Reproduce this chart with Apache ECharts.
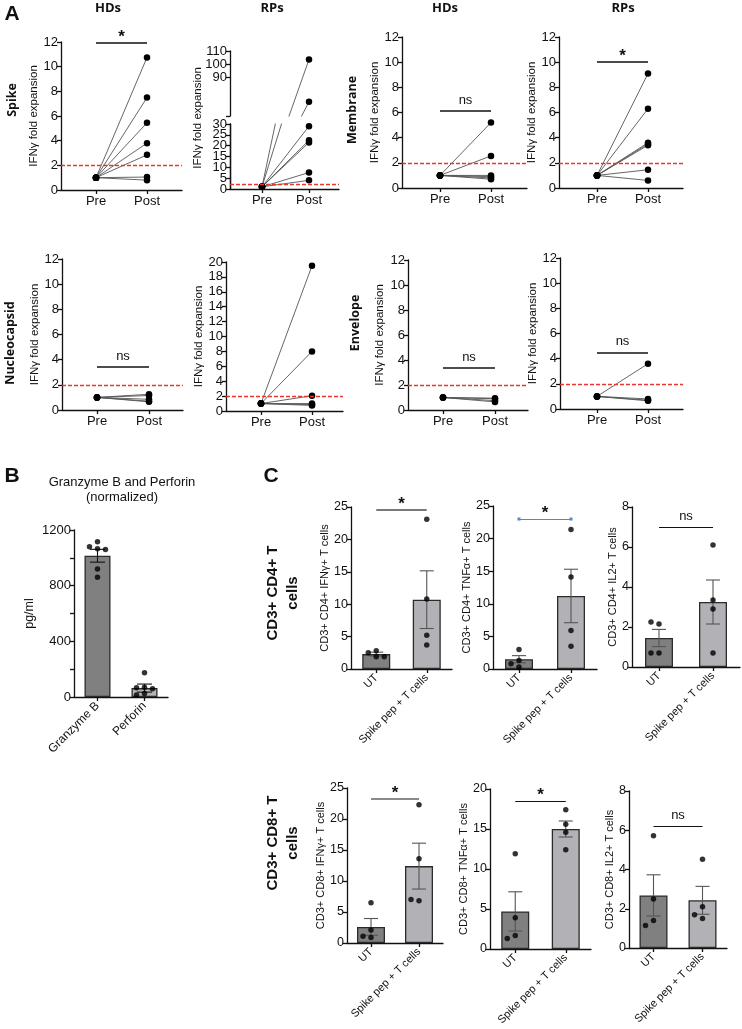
<!DOCTYPE html>
<html>
<head>
<meta charset="utf-8">
<title>IFNγ fold expansion, granzyme B / perforin and T cell cytokines</title>
<script src="https://cdn.jsdelivr.net/npm/echarts@6/dist/echarts.min.js"></script>
<style>
  html, body { margin: 0; padding: 0; background: #fff; }
  #main { width: 742px; height: 1029px; }
</style>
</head>
<body>
<div id="main"></div>
<script>
// ---------- data ----------
// panel A: IFNγ fold expansion, every donor starts at 1 (Pre)
const prePost = ['Pre', 'Post'];
const preValue = 1;
const cutoff = 2;
const spikeHD = [10.75, 7.5, 5.45, 3.8, 2.85, 1.05, 0.8];
const spikeRP = [103.5, 71, 29, 22.5, 21.5, 7.6, 4];
const membHD = [5.2, 2.55, 1.0, 0.9, 0.8, 0.7];
const membRP = [9.1, 6.3, 3.6, 3.5, 3.4, 1.45, 0.6];
const nucHD = [1.25, 1.15, 0.85, 0.7, 0.65];
const nucRP = [19.5, 8.0, 2.05, 1.0, 0.85, 0.75];
const envHD = [0.95, 0.9, 0.75, 0.65];
const envRP = [3.6, 0.8, 0.7, 0.65];
const sigA = ['*', '**', 'ns', '*', 'ns', 'ns', 'ns', 'ns'];
const sigAY = [11.9, 111.5, 6.1, 10, 3.4, 21, 3.35, 4.5];
const rpLowTicks = [0, 5, 10, 15, 20, 25, 30];
const rpHighTicks = [60, 90, 100, 110];

// panel B
const gzCats = ['Granzyme B', 'Perforin'];
const gzMean = [1015, 64];
const gzSem = [46, 29];
const gzPoints = [[1115, 1080, 1065, 1060, 920, 860], [175, 70, 66, 60, 25, 15]];

// panel C
const cCats = ['UT', 'Spike pep + T cells'];
const cNames = ['CD3+ CD4+ IFNγ+ T cells', 'CD3+ CD4+ TNFα+ T cells', 'CD3+ CD4+ IL2+ T cells',
                'CD3+ CD8+ IFNγ+ T cells', 'CD3+ CD8+ TNFα+ T cells', 'CD3+ CD8+ IL2+ T cells'];
const cMean = [[2.3, 10.7], [1.5, 11.2], [1.45, 3.25], [2.6, 12.4], [4.7, 15.0], [2.68, 2.43]];
const cSem = [[0.3, 4.45], [0.55, 4.1], [0.43, 1.1], [1.35, 3.7], [2.45, 1.0], [1.05, 0.71]];
const cUT = [[1.9, 2.5, 2.8, 1.9], [3.0, 1.3, 0.3, 0.8], [2.15, 2.25, 0.7, 0.7],
             [6.5, 2.1, 0.9, 1.1], [11.9, 3.9, 1.7, 1.3], [5.72, 2.5, 1.4, 1.15]];
const cSpike = [[23.1, 10.8, 5.2, 3.7], [21.4, 14.1, 5.9, 3.5], [6.1, 3.35, 2.9, 0.7],
                [22.3, 13.6, 6.8, 7.0], [17.4, 15.6, 14.6, 12.4], [4.52, 2.1, 1.5, 1.7]];
const cMax = [25, 25, 8, 25, 20, 8];
const cInterval = [5, 5, 2, 5, 5, 2];
const sigC = ['*', '*', 'ns', '*', '*', 'ns'];
const sigCY = [24.6, 23, 7.0, 23.2, 18.5, 6.2];

// ---------- helpers ----------
const fontMain = '"Liberation Sans", Arial, Helvetica, sans-serif';
const fontHead = '"Open Sans", "Liberation Sans", Arial, sans-serif';
const ink = '#111';

const grids = [], xAxes = [], yAxes = [], series = [];

function yAxisOf(o) {
  const ax = {
    type: 'value', gridIndex: o.gi, min: o.min, max: o.max,
    name: o.name || '', nameLocation: 'middle', nameGap: o.nameGap || 18,
    nameTextStyle: { fontFamily: fontMain, fontSize: o.nameSize || 11.5, color: ink },
    axisLine: { show: true, onZero: false, lineStyle: { color: ink, width: 1.3 } },
    axisTick: { show: true, length: 4, lineStyle: { color: ink, width: 1.3 } },
    axisLabel: { fontFamily: fontMain, fontSize: o.labelSize || 13, color: ink, margin: 3,
                 showMaxLabel: true, showMinLabel: true, hideOverlap: false,
                 formatter: v => String(v) },
    splitLine: { show: false }
  };
  if (o.interval != null) ax.interval = o.interval;
  if (o.custom) {
    ax.axisTick.customValues = o.custom;
    ax.axisLabel.customValues = o.custom;
  }
  if (o.minor) ax.minorTick = { show: true, splitNumber: 2, length: 4, lineStyle: { color: ink, width: 1.3 } };
  return ax;
}

function prePostAxis(gi, px) {
  const step = px.post - px.pre;
  return {
    type: 'value', gridIndex: gi,
    min: -(px.pre - px.left) / step, max: (px.right - px.pre) / step,
    axisLine: { show: true, onZero: false, lineStyle: { color: ink, width: 1.3 } },
    axisTick: { show: true, length: 4, customValues: [0, 1], lineStyle: { color: ink, width: 1.3 } },
    axisLabel: { customValues: [0, 1], formatter: v => prePost[v], fontFamily: fontMain, fontSize: 13, color: ink, margin: 5 },
    splitLine: { show: false }
  };
}

function sigLabel(txt) {
  const star = txt !== 'ns';
  return {
    show: true, position: 'insideMiddleTop', formatter: txt,
    fontFamily: fontMain, color: ink,
    fontSize: star ? 17 : 13, fontWeight: star ? 'bold' : 'normal',
    distance: star ? -3 : 4
  };
}

function sigSeries(gi, x0, x1, y, txt, style) {
  style = style || {};
  series.push({
    type: 'line', xAxisIndex: gi, yAxisIndex: gi, data: [[x0, y], [x1, y]],
    symbol: 'none', lineStyle: { opacity: 0 }, clip: false, silent: true, z: 5,
    markLine: {
      silent: true, animation: false,
      symbol: style.symbol || 'none', symbolSize: 3,
      lineStyle: { color: style.color || ink, width: style.width || 1.5, type: 'solid' },
      itemStyle: { color: style.color || ink },
      label: sigLabel(txt),
      data: [[{ coord: [x0, y] }, { coord: [x1, y] }]]
    }
  });
}

const cutoffLine = {
  silent: true, animation: false, symbol: 'none',
  lineStyle: { color: '#e8382e', width: 1.3, type: [4, 2] },
  label: { show: false },
  data: [{ yAxis: cutoff }]
};

function pairLines(gi, vals, withCutoff) {
  vals.forEach((v, k) => {
    series.push({
      type: 'line', xAxisIndex: gi, yAxisIndex: gi,
      data: [[0, preValue], [1, v]],
      symbol: 'circle', symbolSize: 6.5, itemStyle: { color: '#000' },
      lineStyle: { color: '#555', width: 0.9 },
      clip: true, silent: true, z: 3,
      markLine: (k === 0 && withCutoff) ? cutoffLine : undefined
    });
  });
}

function addPairChart(px, vals, yo, sig, sigY) {
  const gi = grids.length;
  grids.push({ left: px.left, top: px.top, width: px.right - px.left, height: px.bottom - px.top });
  xAxes.push(prePostAxis(gi, px));
  yAxes.push(yAxisOf(Object.assign({ gi: gi }, yo)));
  pairLines(gi, vals, true);
  sigSeries(gi, 0, 1, sigY, sig);
}

// spread overlapping dots sideways (pixel offsets)
function jitter(vals, thr) {
  const slots = [0, -8, 8, -4, 4, -12, 12];
  const used = [];
  return vals.map((v, i) => {
    const taken = new Set();
    for (let j = 0; j < i; j++) if (Math.abs(vals[j] - v) < thr) taken.add(used[j]);
    const s = slots.find(q => !taken.has(q));
    used.push(s);
    return s;
  });
}

function errRender(color, cap) {
  return function (params, api) {
    const x = api.value(0);
    const lo = api.coord([x, api.value(1)]);
    const hi = api.coord([x, api.value(2)]);
    const st = { stroke: color, lineWidth: 1.1 };
    return {
      type: 'group', children: [
        { type: 'line', shape: { x1: lo[0], y1: lo[1], x2: hi[0], y2: hi[1] }, style: st },
        { type: 'line', shape: { x1: lo[0] - cap, y1: lo[1], x2: lo[0] + cap, y2: lo[1] }, style: st },
        { type: 'line', shape: { x1: hi[0] - cap, y1: hi[1], x2: hi[0] + cap, y2: hi[1] }, style: st }
      ]
    };
  };
}

function addBarChart(box, cats, means, sems, pts, yo, o) {
  const gi = grids.length;
  grids.push(box);
  xAxes.push({
    type: 'category', gridIndex: gi, data: cats, boundaryGap: true,
    axisLine: { show: true, onZero: false, lineStyle: { color: ink, width: 1.3 } },
    axisTick: { show: true, alignWithLabel: true, length: 4, lineStyle: { color: ink, width: 1.3 } },
    axisLabel: { rotate: 45, interval: 0, fontFamily: fontMain, fontSize: o.xSize, color: ink, margin: 7 },
    splitLine: { show: false }
  });
  yAxes.push(yAxisOf(Object.assign({ gi: gi }, yo)));
  series.push({
    type: 'bar', xAxisIndex: gi, yAxisIndex: gi, barWidth: o.barWidth, silent: true, z: 2,
    itemStyle: { borderColor: '#2b2b2b', borderWidth: 1.3 },
    data: means.map((m, i) => ({ value: m, itemStyle: { color: o.colors[i] } }))
  });
  series.push({
    type: 'custom', xAxisIndex: gi, yAxisIndex: gi, silent: true, z: 4,
    renderItem: errRender(o.errColor, o.cap),
    encode: { x: 0, y: [1, 2] },
    data: means.map((m, i) => [i, m - sems[i], m + sems[i]])
  });
  const dots = [];
  pts.forEach((arr, i) => {
    const off = jitter(arr, (yo.max - yo.min) * 0.035);
    arr.forEach((v, k) => dots.push({ value: [i, v], symbolOffset: [off[k], 0] }));
  });
  series.push({
    type: 'scatter', xAxisIndex: gi, yAxisIndex: gi, silent: true, z: 5,
    symbol: 'circle', symbolSize: o.dot, itemStyle: { color: '#000' }, data: dots
  });
  if (o.sig) sigSeries(gi, 0, 1, o.sigY, o.sig, o.sigStyle);
}

// ---------- panel A ----------
const aLayout = [
  { left: 61, pre: 96, post: 147, right: 182, top: 42, bottom: 190 },
  null,
  { left: 402, pre: 440, post: 491, right: 527, top: 37, bottom: 188 },
  { left: 559, pre: 597, post: 648, right: 683, top: 37, bottom: 188 },
  { left: 62, pre: 97, post: 149, right: 183, top: 259, bottom: 410 },
  { left: 226, pre: 261, post: 312, right: 343, top: 262, bottom: 411 },
  { left: 408, pre: 443, post: 495, right: 528, top: 260, bottom: 410 },
  { left: 560, pre: 597, post: 648, right: 683, top: 258, bottom: 409 }
];
const aVals = [spikeHD, spikeRP, membHD, membRP, nucHD, nucRP, envHD, envRP];
const yName = 'IFNγ fold expansion';
const aNameGap = [19, 0, 19, 20, 20, 21, 22, 21];

aVals.forEach((vals, i) => {
  if (i === 1) return;
  const big = i === 5;
  addPairChart(aLayout[i], vals,
    { min: 0, max: big ? 20 : 12, interval: 2, name: yName, nameGap: aNameGap[i] },
    sigA[i], sigAY[i]);
});

// Spike RPs: broken y axis, two stacked grids sharing the Pre/Post scale
let rpLowGrid = -1;
(function () {
  const low = { left: 230, pre: 262, post: 309, right: 339, top: 124, bottom: 189 };
  const up = { left: 230, pre: 262, post: 309, right: 339, top: 51, bottom: 116 };
  let gi = grids.length;
  rpLowGrid = gi;
  grids.push({ left: low.left, top: low.top, width: low.right - low.left, height: low.bottom - low.top });
  xAxes.push(prePostAxis(gi, low));
  // ticks are tightly packed: the even ones here, the odd ones on an extra axis added at the end
  yAxes.push(yAxisOf({ gi: gi, min: 0, max: 30, custom: rpLowTicks.filter((v, k) => k % 2 === 0) }));
  pairLines(gi, spikeRP, true);

  gi = grids.length;
  grids.push({ left: up.left, top: up.top, width: up.right - up.left, height: up.bottom - up.top });
  const xa = prePostAxis(gi, up);
  xa.show = false;
  xAxes.push(xa);
  yAxes.push(yAxisOf({ gi: gi, min: 60, max: 110, custom: rpHighTicks }));
  yAxes[gi].axisLabel.formatter = v => (v >= 90 ? String(v) : '');
  pairLines(gi, spikeRP.filter(v => v > 60), false);
  sigSeries(gi, 0, 1, sigAY[1], sigA[1]);
})();

// ---------- panel B ----------
addBarChart({ left: 74, top: 530, width: 94, height: 167 }, gzCats, gzMean, gzSem, gzPoints,
  { min: 0, max: 1200, interval: 400, name: 'pg/ml', nameGap: 38, nameSize: 12.5, labelSize: 13, minor: true },
  { xSize: 12, barWidth: 26, colors: ['#808080', '#b4b4b4'], errColor: '#111', cap: 7.5, dot: 5.5 });

// ---------- panel C ----------
const cBoxes = [
  { left: 351, top: 507, width: 101, height: 162 },
  { left: 493, top: 506, width: 104, height: 163 },
  { left: 632, top: 507, width: 108, height: 160 },
  { left: 347, top: 788, width: 96, height: 155 },
  { left: 490, top: 789, width: 101, height: 160 },
  { left: 629, top: 791, width: 98, height: 157 }
];
const cNameGap = [19, 19, 13, 19, 19, 13];
const cSigStyle = [
  { color: '#7a7a7a', width: 2 },
  { color: '#5b84c8', width: 1.2, symbol: ['rect', 'rect'] },
  { color: ink, width: 1.1 },
  { color: '#8a8a8a', width: 2 },
  { color: ink, width: 1.1 },
  { color: ink, width: 1.1 }
];
cBoxes.forEach((box, i) => {
  addBarChart(box, cCats, cMean[i], cSem[i], [cUT[i], cSpike[i]],
    { min: 0, max: cMax[i], interval: cInterval[i], name: cNames[i], nameGap: cNameGap[i], nameSize: 11, labelSize: 12.5 },
    { xSize: 11, barWidth: 28, colors: ['#808080', '#b2b2b6'], errColor: '#555', cap: 7, dot: 5.5,
      sig: sigC[i], sigY: sigCY[i], sigStyle: cSigStyle[i] });
});

// extra axis on the Spike RPs lower grid with the odd ticks (5, 15, 25); no series uses it
const oddAxis = yAxisOf({ gi: rpLowGrid, min: 0, max: 30, custom: rpLowTicks.filter((v, k) => k % 2 === 1) });
oddAxis.position = 'left';
oddAxis.offset = 0;
yAxes.push(oddAxis);

// ---------- text labels ----------
function txt(t, x, y, size, weight, family, rot) {
  return {
    type: 'text', x: x, y: y, rotation: rot || 0, silent: true,
    style: { text: t, fill: ink, fontSize: size, fontWeight: weight || 'normal',
             fontFamily: family || fontMain, align: 'center', verticalAlign: 'middle' }
  };
}
const up90 = Math.PI / 2;
const graphics = [
  txt('A', 12, 14, 21, 'bold'),
  txt('B', 12, 476, 21, 'bold'),
  txt('C', 271, 476, 21, 'bold'),
  txt('HDs', 108, 8, 13, 'bold', fontHead),
  txt('RPs', 272, 8, 13, 'bold', fontHead),
  txt('HDs', 445, 8, 13, 'bold', fontHead),
  txt('RPs', 623, 8, 13, 'bold', fontHead),
  txt('Spike', 12, 100, 12.5, 'bold', fontHead, up90),
  txt('Membrane', 352, 110, 12.5, 'bold', fontHead, up90),
  txt('Nucleocapsid', 10, 343, 12.5, 'bold', fontHead, up90),
  txt('Envelope', 355, 323, 12.5, 'bold', fontHead, up90),
  // y title of the broken Spike RPs axis, spanning both axis parts
  txt(yName, 198, 118, 11.5, 'normal', fontMain, up90),
  txt('Granzyme B and Perforin', 122, 482, 13),
  txt('(normalized)', 122, 497, 13),
  txt('CD3+ CD4+ T', 273, 593, 15, 'bold', fontMain, up90),
  txt('cells', 293, 593, 15, 'bold', fontMain, up90),
  txt('CD3+ CD8+ T', 273, 843, 15, 'bold', fontMain, up90),
  txt('cells', 293, 843, 15, 'bold', fontMain, up90)
];

const chart = echarts.init(document.getElementById('main'), null, { renderer: 'canvas' });
chart.setOption({
  backgroundColor: '#fff',
  animation: false,
  grid: grids,
  xAxis: xAxes,
  yAxis: yAxes,
  series: series,
  graphic: graphics
});
</script>
</body>
</html>
